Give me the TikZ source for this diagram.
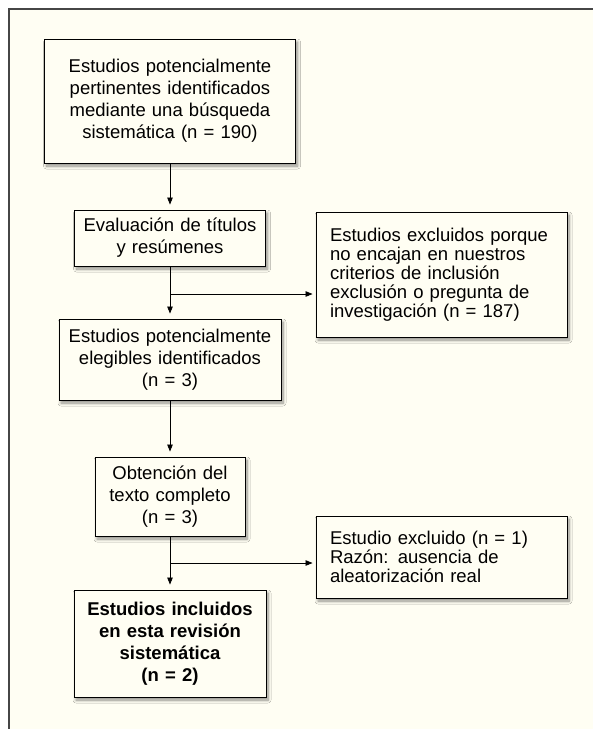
\documentclass[tikz,border=0pt]{standalone}
\usepackage{fontspec}
\setmainfont{Liberation Sans}
\usetikzlibrary{arrows.meta,shadows.blur}
\definecolor{cream}{RGB}{255,254,243}
\definecolor{framegray}{RGB}{70,70,70}
\tikzset{
  boxbase/.style={draw=black, line width=0.9pt, fill=cream, inner sep=0pt,
    font=\fontsize{18.5}{22}\selectfont,
    blur shadow={shadow xshift=2pt, shadow yshift=-3pt, shadow blur radius=3pt, shadow blur steps=8, shadow opacity=45}},
  cbox/.style={boxbase, align=center},
  lbox/.style={boxbase, align=left, font=\fontsize{18.5}{19}\selectfont},
  arr/.style={line width=0.8pt, -{Triangle[length=7pt,width=5.5pt]}, shorten >=5pt},
  ln/.style={line width=0.8pt},
}
\begin{document}
\begin{tikzpicture}[x=1pt,y=-1pt]
\useasboundingbox (0,0) rectangle (593,729);
\fill[white] (0,0) rectangle (593,729);
\fill[cream] (9,9) rectangle (593,729);
\draw[framegray, line width=1.6pt] (593,9) -- (9,9) -- (9,729);

\node[cbox, minimum width=251pt, minimum height=124pt, text width=240pt] (b1) at (170,101)
  {Estudios potencialmente\\pertinentes identificados\\mediante una búsqueda\\sistemática (n = 190)};
\node[cbox, minimum width=191pt, minimum height=56pt, text width=185pt] (b2) at (170,238)
  {Evaluación de títulos\\y resúmenes};
\node[lbox, minimum width=251pt, minimum height=125pt, text width=223pt] (b3) at (441.5,274.5)
  {Estudios excluidos porque\\no encajan en nuestros\\criterios de inclusión\\exclusión o pregunta de\\investigación (n = 187)};
\node[cbox, minimum width=222pt, minimum height=81pt, text width=215pt] (b4) at (170,359.5)
  {Estudios potencialmente\\elegibles identificados\\(n = 3)};
\node[cbox, minimum width=150pt, minimum height=79pt, text width=145pt] (b5) at (170,496.5)
  {Obtención del\\texto completo\\(n = 3)};
\node[lbox, minimum width=251pt, minimum height=82pt, text width=223pt] (b6) at (441.5,557)
  {Estudio excluido (n = 1)\\Razón: ausencia de\\aleatorización real};
\node[cbox, minimum width=192pt, minimum height=107pt, text width=185pt, font=\fontsize{18.5}{22}\selectfont\bfseries] (b7) at (170,643.5)
  {Estudios incluidos\\en esta revisión\\sistemática\\(n = 2)};

\coordinate (j1) at (170,294);
\coordinate (j2) at (170,563);

\draw[arr] (b1.south) -- (b2.north);
\draw[ln] (b2.south) -- (j1);
\draw[arr] (j1) -- (b4.north);
\draw[arr, shorten >=3pt] (j1) -- (j1 -| b3.west);
\draw[arr] (b4.south) -- (b5.north);
\draw[ln] (b5.south) -- (j2);
\draw[arr] (j2) -- (b7.north);
\draw[arr, shorten >=3pt] (j2) -- (j2 -| b6.west);
\end{tikzpicture}
\end{document}
